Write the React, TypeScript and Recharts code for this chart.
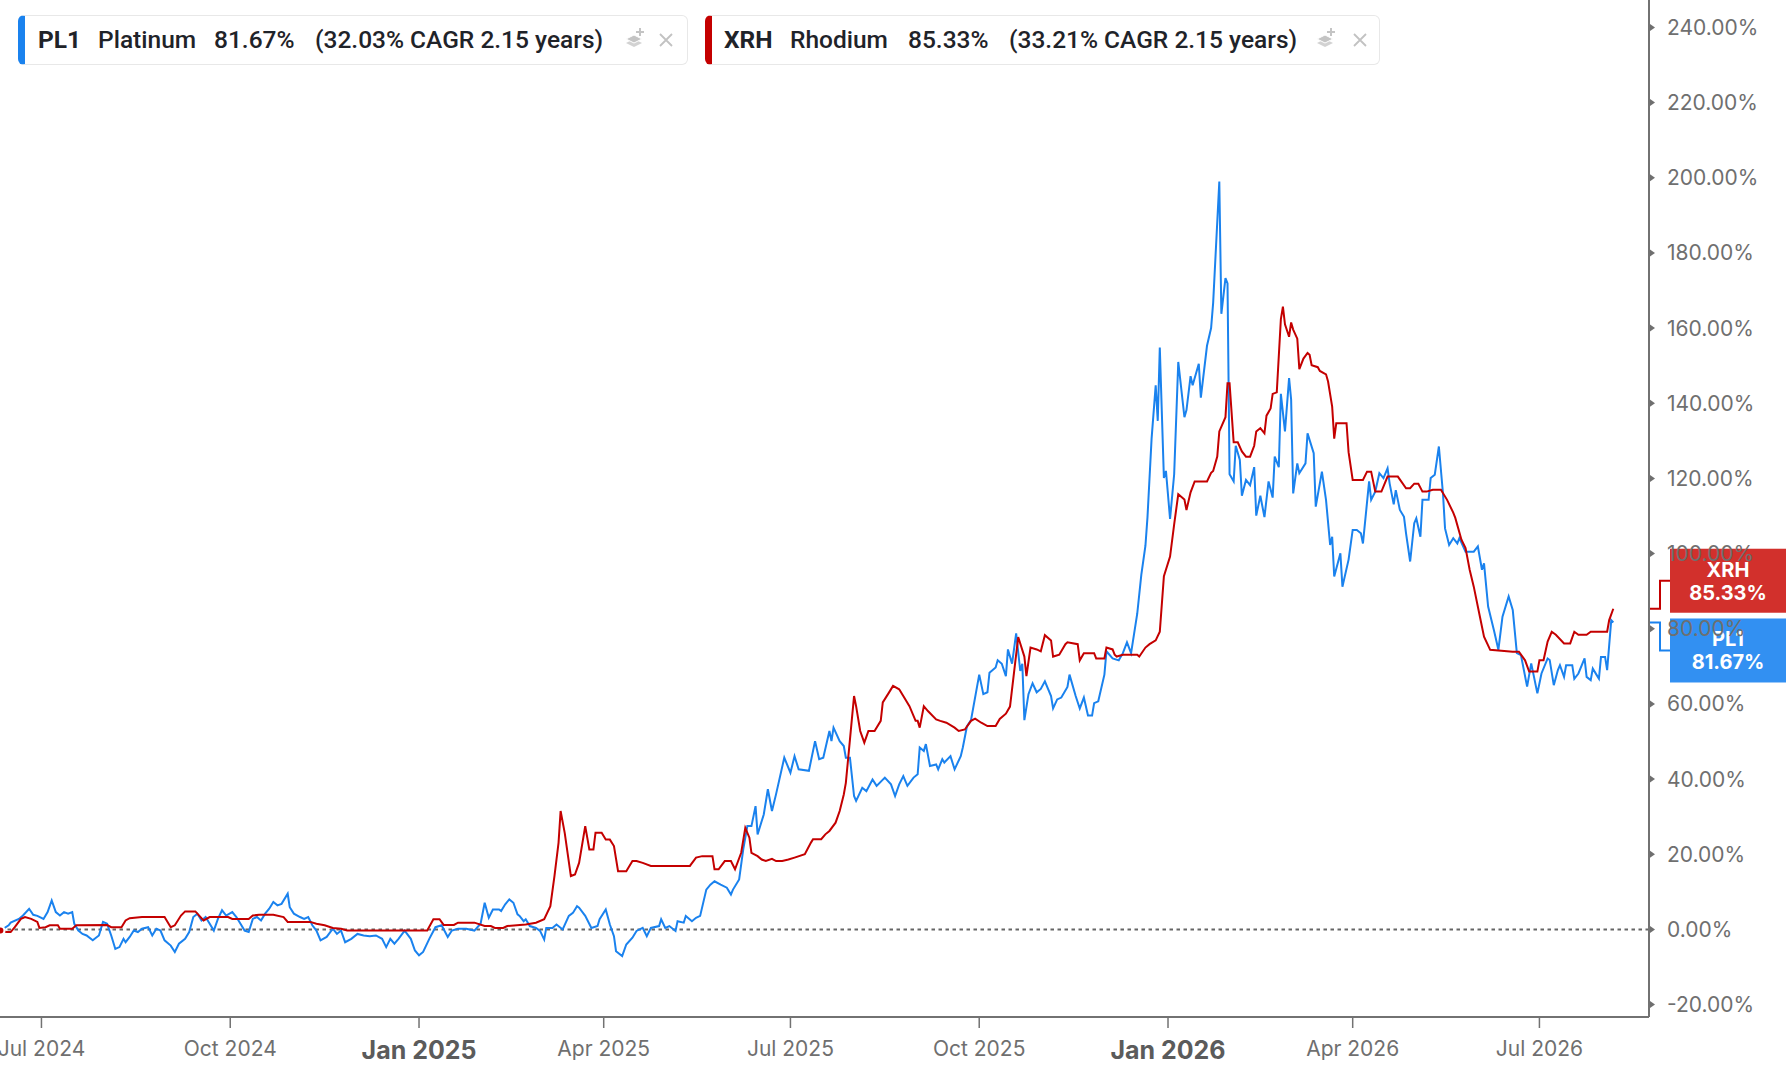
import React from 'react';
import { LineChart, Line, XAxis, YAxis, ReferenceLine } from 'recharts';

// x values are days since 2024-07-01
const START = Date.UTC(2024, 6, 1);
const dayOf = (iso: string) => (Date.parse(iso + 'T00:00:00Z') - START) / 86400000;

const tickDates = ['2024-07-01', '2024-10-01', '2025-01-01', '2025-04-01', '2025-07-01', '2025-10-01', '2026-01-01', '2026-04-01', '2026-07-01'];
const tickLabels = ['Jul 2024', 'Oct 2024', 'Jan 2025', 'Apr 2025', 'Jul 2025', 'Oct 2025', 'Jan 2026', 'Apr 2026', 'Jul 2026'];
const tickDays = tickDates.map(dayOf);
const yTicks = [-20, 0, 20, 40, 60, 80, 100, 120, 140, 160, 180, 200, 220, 240];

// PL1 Platinum: [day, % return]
const plPoints: [number, number][] = [
  [-20,-0.3],[-16,1.1],[-15,1.8],[-11,2.8],[-9,3.7],[-6,5.5],[-4,3.9],[-2,3.6],[1,2.8],[3,4.6],
  [5,7.7],[7,4.6],[9,3.7],[11,4.6],[13,4.2],[15,4.6],[16,1.5],[18,-0.3],[20,-1.2],[22,-1.6],
  [25,-2.9],[28,-1.6],[30,2.0],[32,1.5],[34,-1.6],[36,-5.2],[38,-4.7],[40,-2.5],[41,-3.4],[43,-2.0],
  [45,-0.3],[47,-0.7],[49,0.2],[52,0.6],[54,-1.6],[56,0.2],[58,-0.3],[60,-2.9],[63,-4.3],[65,-6.0],
  [67,-3.8],[70,-2.5],[72,-0.7],[74,3.3],[76,4.2],[78,2.4],[80,3.3],[82,1.5],[84,-0.3],[86,2.8],
  [88,5.1],[90,3.7],[93,4.6],[95,3.3],[97,1.5],[99,-0.3],[101,-0.7],[103,2.8],[105,3.3],[107,2.4],
  [109,4.2],[111,5.5],[113,7.3],[115,6.4],[117,6.8],[120,9.5],[121,5.9],[123,4.2],[126,3.3],[128,2.8],
  [130,3.3],[132,1.1],[134,-0.3],[136,-2.9],[139,-2.0],[142,0.2],[144,-1.2],[146,-0.3],[148,-3.4],[151,-2.5],
  [154,-1.2],[157,-1.6],[160,-1.8],[163,-1.6],[166,-2.5],[168,-4.7],[170,-2.5],[172,-3.8],[174,-2.5],[177,-0.3],
  [180,-2.5],[182,-5.6],[184,-6.9],[186,-6.0],[189,-2.5],[192,0.6],[195,1.1],[198,-2.0],[200,-0.3],[203,0.2],
  [207,0.2],[211,-0.3],[214,1.5],[216,7.1],[218,3.1],[220,5.3],[223,5.3],[224,4.9],[226,6.7],[228,8.0],
  [230,7.1],[232,4.0],[233,3.6],[235,2.2],[236,2.7],[238,0.9],[241,0.4],[243,-0.4],[245,-2.7],[246,0.4],
  [249,0.4],[251,1.3],[254,0.0],[257,3.6],[259,4.4],[261,6.2],[262,5.8],[265,3.6],[268,0.4],[271,0.9],
  [272,2.7],[275,5.3],[277,1.3],[279,-1.8],[280,-5.8],[283,-7.1],[285,-4.0],[288,-2.2],[290,-0.4],[293,0.4],
  [295,-1.8],[297,0.4],[301,0.9],[302,2.7],[304,0.4],[306,0.9],[309,-0.4],[310,2.2],[313,1.8],[314,3.6],
  [317,2.2],[319,3.1],[321,3.6],[324,10.6],[326,11.9],[328,12.8],[331,11.9],[334,11.1],[336,9.3],[337,10.6],
  [340,13.3],[342,21.3],[344,27.5],[346,27.5],[348,32.8],[349,25.3],[352,30.6],[354,37.3],[356,31.5],[358,36.0],
  [362,45.7],[365,41.7],[367,46.1],[369,42.6],[374,42.2],[377,50.1],[379,45.3],[381,45.7],[384,52.8],[385,50.1],
  [386,53.7],[389,50.1],[391,48.8],[392,45.7],[394,45.7],[396,35.5],[397,34.2],[400,37.7],[402,36.8],[405,39.9],
  [407,38.2],[411,40.4],[414,38.6],[416,35.5],[418,38.6],[420,40.8],[422,38.2],[425,40.4],[427,41.3],[428,48.4],
  [430,47.5],[431,49.3],[433,43.5],[436,43.9],[437,42.6],[439,45.3],[440,44.4],[443,46.1],[445,42.6],[448,46.1],
  [449,48.4],[451,54.0],[453,55.7],[457,67.8],[459,62.6],[461,63.1],[462,68.3],[465,69.7],[466,71.6],[468,70.7],
  [470,67.4],[471,74.5],[473,70.7],[475,78.8],[477,68.8],[478,70.7],[479,55.7],[481,62.6],[483,65.5],[485,63.1],
  [487,64.0],[489,66.0],[492,62.1],[493,58.8],[495,61.2],[497,61.7],[500,64.5],[501,67.8],[504,62.1],[506,58.8],
  [508,61.7],[510,56.9],[512,56.9],[513,60.2],[515,60.7],[518,67.8],[519,74.0],[522,72.1],[525,71.6],[527,73.5],
  [529,76.4],[531,73.5],[534,84.0],[536,94.4],[538,102.1],[539,109.7],[541,130.6],[543,144.8],[544,135.3],[545,154.8],
  [547,120.1],[548,122.0],[550,109.2],[552,121.1],[554,151.0],[557,136.3],[558,138.2],[560,147.2],[561,144.8],[564,150.5],
  [565,141.5],[568,155.3],[570,160.0],[571,166.7],[574,199.0],[575,163.8],[577,173.3],[578,171.9],[579,121.1],[581,119.2],
  [582,128.7],[584,124.9],[585,115.4],[587,119.6],[589,118.2],[591,123.0],[592,110.1],[594,115.4],[596,109.7],[598,119.2],
  [600,114.9],[601,125.8],[603,123.0],[604,142.5],[606,132.5],[608,146.7],[609,141.0],[610,116.0],[612,124.0],[613,121.4],
  [616,124.0],[617,132.0],[620,126.7],[621,112.5],[624,121.8],[626,114.3],[628,102.3],[629,104.5],[630,93.9],[633,100.1],
  [634,91.2],[637,98.4],[639,106.3],[641,106.3],[643,105.4],[644,102.7],[647,119.2],[648,114.3],[650,116.5],[652,121.4],
  [654,120.1],[656,122.7],[657,118.7],[659,113.1],[660,116.9],[662,111.6],[664,109.8],[665,105.4],[667,97.9],[669,108.1],
  [670,109.4],[672,104.5],[673,114.3],[676,114.3],[677,120.1],[679,121.0],[681,128.5],[683,116.0],[684,106.7],[686,102.3],
  [688,104.1],[690,102.7],[691,104.1],[694,100.5],[698,100.5],[700,101.9],[702,95.7],[703,97.4],[705,85.9],[708,79.2],
  [710,74.4],[712,83.2],[715,88.6],[717,85.0],[719,73.5],[721,73.0],[724,64.6],[726,70.8],[729,62.8],[731,68.1],
  [734,72.1],[735,71.7],[737,65.0],[739,69.0],[740,70.3],[742,67.2],[743,70.3],[746,70.3],[747,66.7],[749,68.1],
  [752,72.1],[753,67.2],[755,66.3],[756,69.4],[758,67.6],[759,66.7],[760,72.5],[762,72.5],[763,69.0],[765,82.3],
  [766,81.67],
];

// XRH Rhodium: [day, % return]
const xrhPoints: [number, number][] = [
  [-20,-0.3],[-17,-0.7],[-15,-0.7],[-13,0.6],[-10,2.8],[-8,3.3],[-5,2.8],[-2,2.0],[-1,0.4],[2,0.6],
  [4,1.1],[8,1.1],[9,0.2],[15,0.2],[17,1.1],[32,1.2],[34,0.6],[39,0.6],[41,2.4],[43,3.0],
  [49,3.3],[60,3.3],[63,0.6],[65,1.1],[68,3.7],[70,4.8],[75,4.8],[79,2.4],[82,3.3],[91,3.3],
  [93,2.8],[101,2.8],[103,3.7],[106,3.9],[113,3.9],[118,3.3],[120,2.0],[131,2.0],[134,1.5],[138,1.1],
  [142,0.4],[146,0.2],[149,-0.3],[188,-0.3],[191,2.7],[194,2.7],[196,1.2],[201,1.2],[203,1.8],[211,1.8],
  [216,0.9],[219,0.9],[221,0.4],[225,0.4],[227,0.9],[236,1.3],[241,1.8],[245,2.7],[248,6.2],[250,14.2],
  [252,23.1],[253,31.5],[255,25.7],[258,14.2],[260,14.6],[262,17.7],[265,27.5],[267,21.3],[269,21.3],[270,25.7],
  [273,25.7],[275,23.9],[277,23.9],[279,22.2],[281,15.5],[285,15.5],[288,18.2],[290,18.2],[293,17.7],[297,16.9],
  [316,16.9],[319,19.1],[322,19.5],[327,19.5],[328,16.0],[330,16.0],[333,18.2],[336,18.2],[338,16.0],[341,20.4],
  [343,27.0],[345,24.4],[346,20.4],[349,19.5],[351,18.6],[353,18.2],[356,18.8],[358,18.2],[361,18.2],[364,18.6],
  [367,19.1],[372,20.0],[375,23.1],[376,24.0],[380,24.0],[382,25.3],[384,26.2],[387,28.4],[389,31.5],[391,35.9],
  [392,39.0],[394,50.5],[396,62.1],[397,59.4],[399,52.8],[401,49.7],[403,52.8],[406,52.8],[409,55.5],[410,60.4],
  [413,63.0],[415,64.8],[418,63.9],[420,62.1],[423,59.4],[426,55.5],[427,55.5],[428,53.7],[430,59.4],[432,58.1],
  [436,55.9],[438,55.5],[441,55.0],[445,53.7],[447,52.8],[450,53.2],[453,55.5],[455,56.1],[458,55.0],[461,54.1],
  [465,54.1],[467,56.0],[470,57.4],[472,59.3],[476,77.8],[479,72.6],[480,67.4],[482,75.0],[485,74.5],[487,74.0],
  [489,78.3],[492,76.9],[493,72.6],[496,73.1],[499,75.9],[500,76.4],[505,75.9],[506,71.6],[508,73.5],[513,73.5],
  [514,72.1],[518,72.1],[519,75.0],[522,74.5],[523,73.1],[524,72.6],[527,73.1],[534,73.1],[535,72.6],[538,75.0],
  [540,75.9],[543,76.9],[545,79.2],[547,94.0],[550,99.2],[552,107.8],[554,115.8],[557,114.4],[558,111.6],[560,116.3],
  [562,119.2],[568,119.2],[570,121.5],[571,122.0],[573,125.8],[574,132.5],[577,136.3],[578,145.3],[579,145.3],[581,129.6],
  [583,129.6],[585,127.2],[587,125.8],[589,125.8],[591,128.7],[592,132.5],[594,133.4],[596,132.0],[597,136.7],[599,138.6],
  [600,142.5],[602,142.9],[604,162.4],[605,165.7],[606,161.0],[608,157.7],[609,161.5],[610,159.6],[612,157.2],[613,149.1],
  [615,151.9],[617,153.4],[618,152.9],[619,150.1],[622,149.6],[623,148.6],[626,147.7],[627,145.8],[629,139.1],[630,130.6],
  [631,134.7],[636,134.7],[637,127.0],[639,119.6],[644,119.6],[646,121.8],[648,121.8],[650,116.5],[653,116.5],[656,120.5],
  [661,120.5],[665,117.4],[667,117.4],[669,118.6],[671,118.6],[673,116.5],[675,116.5],[678,117.0],[682,117.0],[685,114.3],
  [688,110.9],[689,109.5],[692,103.7],[694,101.5],[696,95.7],[698,91.2],[701,83.2],[703,77.9],[706,74.4],[717,73.9],
  [720,73.9],[723,71.6],[725,68.6],[729,68.6],[730,71.6],[732,71.6],[734,76.6],[736,79.2],[738,78.4],[742,76.1],
  [745,76.1],[747,79.2],[749,78.4],[753,78.4],[755,79.2],[763,79.2],[764,82.3],[766,85.33],
];

const plMeta = { code: 'PL1', name: 'Platinum', total: '81.67%', cagr: '(32.03% CAGR 2.15 years)', color: '#1a82ee', tag: '#3290f2' };
const xrhMeta = { code: 'XRH', name: 'Rhodium', total: '85.33%', cagr: '(33.21% CAGR 2.15 years)', color: '#c40000', tag: '#d2302c' };

const plData = plPoints.map(([day, pct]) => ({ day, pct }));
const xrhData = xrhPoints.map(([day, pct]) => ({ day, pct }));
const plLast = plPoints[plPoints.length - 1][1];
const xrhLast = xrhPoints[xrhPoints.length - 1][1];

const FONT = 'Inter, "Noto Sans", sans-serif';
const LEGEND_FONT = 'Roboto, Inter, sans-serif';
const AXIS = '#727272';

const XTick = (props: any) => {
  const { x, y, payload } = props;
  const i = tickDays.indexOf(payload.value);
  const label = tickLabels[i] ?? '';
  const isYear = label.startsWith('Jan');
  return (
    <text x={x} y={y + (isYear ? 22 : 20)} textAnchor="middle" dominantBaseline="central"
      fontFamily={FONT} fontSize={isYear ? 25 : 21} fontWeight={isYear ? 700 : 400}
      fill={isYear ? '#5b5b5b' : '#6f6f6f'}>{label}</text>
  );
};

const YTick = (props: any) => {
  const { x, y, payload } = props;
  return (
    <g>
      <path d={`M${x + 1},${y - 3.5} L${x + 6},${y} L${x + 1},${y + 3.5} Z`} fill="#6f6f6f" />
      <text x={x + 18} y={y} dominantBaseline="central" fontFamily={FONT} fontSize={21} fill="#6f6f6f">
        {`${Number(payload.value).toFixed(2)}%`}
      </text>
    </g>
  );
};

const makeTag = (meta: any, value: number, shift: number) => (props: any) => {
  const vb = props.viewBox || {};
  const lineY = vb.y;
  const axisX = vb.x + vb.width;
  const cy = lineY + shift;
  const bx = axisX + 21;
  return (
    <g>
      <polyline points={`${axisX},${lineY} ${axisX + 11},${lineY} ${axisX + 11},${cy} ${bx},${cy}`}
        fill="none" stroke={meta.color} strokeWidth={2} />
      <rect x={bx} y={cy - 32} width={118} height={64} fill={meta.tag} />
      <text x={bx + 58} y={cy - 11} textAnchor="middle" dominantBaseline="central" fill="#fff"
        fontFamily={FONT} fontSize={20} fontWeight={700}>{meta.code}</text>
      <text x={bx + 58} y={cy + 12} textAnchor="middle" dominantBaseline="central" fill="#fff"
        fontFamily={FONT} fontSize={20} fontWeight={700}>{`${value.toFixed(2)}%`}</text>
    </g>
  );
};

const LayersIcon = () => (
  <svg width="24" height="26" viewBox="0 0 24 26">
    <path d="M3 16 L11 12 L19 16 L11 20 Z" fill="#d2d2d2" />
    <path d="M3 12 L11 8 L19 12 L11 16 Z" fill="#c4c4c4" stroke="#fff" strokeWidth="1" />
    <path d="M17 1 V9 M13 5 H21" stroke="#c4c4c4" strokeWidth="2" />
  </svg>
);

const CloseIcon = () => (
  <svg width="16" height="16" viewBox="0 0 16 16">
    <path d="M2 2 L14 14 M14 2 L2 14" stroke="#c2c2c2" strokeWidth="1.8" />
  </svg>
);

const LegendBox = ({ meta, left, width, pos }: any) => {
  const span = (l: number, text: string, weight: number) => (
    <span style={{ position: 'absolute', left: l, top: 0, height: 48, lineHeight: '48px', fontSize: 24.5,
      fontWeight: weight, color: '#1f2329', whiteSpace: 'nowrap', fontFamily: LEGEND_FONT }}>{text}</span>
  );
  return (
    <div style={{ position: 'absolute', left, top: 15, width, height: 50, boxSizing: 'border-box',
      border: '1px solid #e8e8e8', borderLeft: `7px solid ${meta.color}`, borderRadius: 6, background: '#fff' }}>
      {span(pos[0], meta.code, 700)}
      {span(pos[1], meta.name, 500)}
      {span(pos[2], meta.total, 500)}
      {span(pos[3], meta.cagr, 500)}
      <div style={{ position: 'absolute', left: pos[4], top: 11 }}><LayersIcon /></div>
      <div style={{ position: 'absolute', left: pos[5], top: 16 }}><CloseIcon /></div>
    </div>
  );
};

export default function App() {
  return (
    <div style={{ position: 'absolute', left: 0, top: 0, width: 1786, height: 1070, background: '#fff', fontFamily: FONT }}>
      <LineChart width={1786} height={1070} margin={{ top: 0, right: 0, bottom: 0, left: 0 }}>
        <XAxis type="number" dataKey="day" domain={[-20.2, 783.4]} allowDataOverflow ticks={tickDays}
          tick={<XTick />} tickSize={11} tickMargin={0} height={53} interval={0}
          axisLine={{ stroke: AXIS, strokeWidth: 2 }} tickLine={{ stroke: AXIS, strokeWidth: 1.5 }} />
        <YAxis orientation="right" type="number" domain={[-23.3, 247.3]} allowDataOverflow ticks={yTicks}
          tick={<YTick />} tickLine={false} tickSize={0} tickMargin={0} width={137} interval={0}
          axisLine={{ stroke: AXIS, strokeWidth: 2 }} />
        <ReferenceLine y={0} stroke="#666666" strokeWidth={2} strokeDasharray="3.5 3.5" />
        <Line data={plData} dataKey="pct" type="linear" stroke={plMeta.color} strokeWidth={2} dot={false}
          isAnimationActive={false} />
        <Line data={xrhData} dataKey="pct" type="linear" stroke={xrhMeta.color} strokeWidth={2} dot={false}
          isAnimationActive={false} />
        <ReferenceLine y={xrhLast} stroke="none" ifOverflow="visible" label={makeTag(xrhMeta, xrhLast, -28)} />
        <ReferenceLine y={plLast} stroke="none" ifOverflow="visible" label={makeTag(plMeta, plLast, 28)} />
      </LineChart>
      <LegendBox meta={plMeta} left={18} width={670} pos={[13, 73, 189, 290, 598, 633]} />
      <LegendBox meta={xrhMeta} left={705} width={675} pos={[12, 78, 196, 297, 602, 640]} />
    </div>
  );
}
